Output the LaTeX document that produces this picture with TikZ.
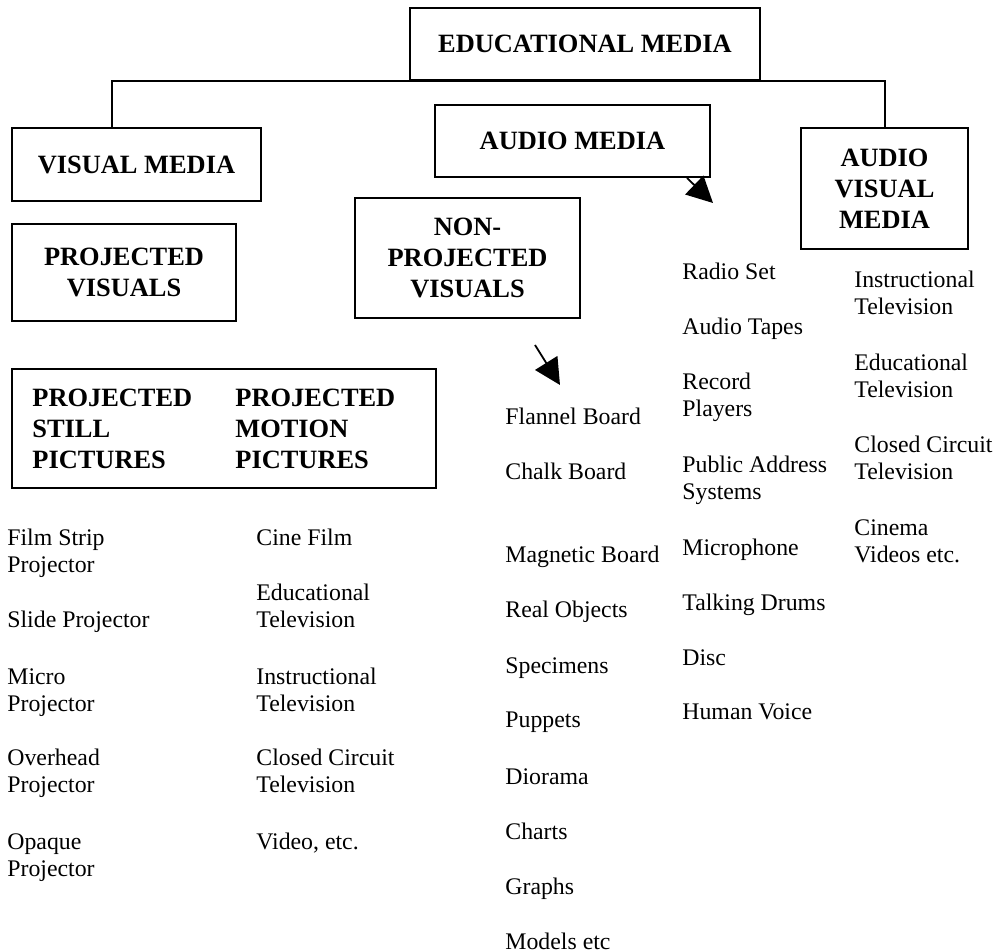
\documentclass[tikz,border=0pt]{standalone}
\usepackage{fontspec}
\setmainfont{Liberation Serif}
\usepackage{tikz}
\usetikzlibrary{arrows.meta, positioning, calc}

\begin{document}
\begin{tikzpicture}[
  x=0.5pt, y=-0.5pt,
  box/.style={rectangle, draw, line width=1pt, align=center, inner sep=0pt, font=\fontsize{13.2}{15.4}\selectfont\bfseries},
  head/.style={align=left, inner sep=0pt, anchor=north west, font=\fontsize{13.2}{15.4}\selectfont\bfseries},
  item/.style={align=left, inner sep=0pt, anchor=north west, font=\fontsize{11.9}{13.5}\selectfont},
  arrow/.style={-{Triangle[length=13pt, width=13pt]}, line width=0.9pt},
]
  \useasboundingbox (0,0) rectangle (998,952);

  % boxes
  \node[box, minimum width=175pt, minimum height=36pt] (edu) at (585,44) {EDUCATIONAL MEDIA};
  \node[box, minimum width=124.5pt, minimum height=36.5pt] (visual) at (136.5,164.5) {VISUAL MEDIA};
  \node[box, minimum width=137.5pt, minimum height=36pt] (audio) at (572.5,141) {AUDIO MEDIA};
  \node[box, minimum width=83.5pt, minimum height=60.5pt] (avm) at (884.5,188.5) {AUDIO\\VISUAL\\MEDIA};
  \node[box, minimum width=112pt, minimum height=48.5pt] (projvis) at (124,272.5) {PROJECTED\\VISUALS};
  \node[box, minimum width=112.5pt, minimum height=60pt] (nonproj) at (467.5,258) {NON-\\PROJECTED\\VISUALS};
  \node[box, minimum width=212pt, minimum height=59.5pt] (pics) at (224,428.5) {};
  \node[head] (still) at (32,389) {PROJECTED\\STILL\\PICTURES};
  \node[head] (motion) at (235,389) {PROJECTED\\MOTION\\PICTURES};

  % tree lines
  \draw[line width=1pt] ([xshift=-12.25pt]visual.north) |- (edu.south) -| (avm.north);

  \coordinate (atip) at (713,203);
  \coordinate (nstart) at (535,345);
  \coordinate (ntip) at (560,385);
  \draw[arrow] ([xshift=-12pt]audio.south east) -- (atip);
  \draw[arrow] (nstart) -- (ntip);

  % projected still pictures
  \node[item] (s1) at (7,529) {Film Strip\\Projector};
  \node[item] (s2) at (7,611) {Slide Projector};
  \node[item] (s3) at (7,668) {Micro\\Projector};
  \node[item] (s4) at (7,749) {Overhead\\Projector};
  \node[item] (s5) at (7,833) {Opaque\\Projector};

  % projected motion pictures
  \node[item] (m1) at (256,529) {Cine Film};
  \node[item] (m2) at (256,584) {Educational\\Television};
  \node[item] (m3) at (256,668) {Instructional\\Television};
  \node[item] (m4) at (256,749) {Closed Circuit\\Television};
  \node[item] (m5) at (256,833) {Video, etc.};

  % non-projected visuals
  \node[item] (n1) at (505,408) {Flannel Board};
  \node[item] (n2) at (505,463) {Chalk Board};
  \node[item] (n3) at (505,546) {Magnetic Board};
  \node[item] (n4) at (505,601) {Real Objects};
  \node[item] (n5) at (505,657) {Specimens};
  \node[item] (n6) at (505,712) {Puppets};
  \node[item] (n7) at (505,768) {Diorama};
  \node[item] (n8) at (505,823) {Charts};
  \node[item] (n9) at (505,878) {Graphs};
  \node[item] (n10) at (505,933) {Models etc};

  % audio media
  \node[item] (a1) at (682,263) {Radio Set};
  \node[item] (a2) at (682,318) {Audio Tapes};
  \node[item] (a3) at (682,373) {Record\\Players};
  \node[item] (a4) at (682,456) {Public Address\\Systems};
  \node[item] (a5) at (682,539) {Microphone};
  \node[item] (a6) at (682,594) {Talking Drums};
  \node[item] (a7) at (682,649) {Disc};
  \node[item] (a8) at (682,703) {Human Voice};

  % audio visual media
  \node[item] (v1) at (854,271) {Instructional\\Television};
  \node[item] (v2) at (854,354) {Educational\\Television};
  \node[item] (v3) at (854,436) {Closed Circuit\\Television};
  \node[item] (v4) at (854,519) {Cinema\\Videos etc.};
\end{tikzpicture}
\end{document}
